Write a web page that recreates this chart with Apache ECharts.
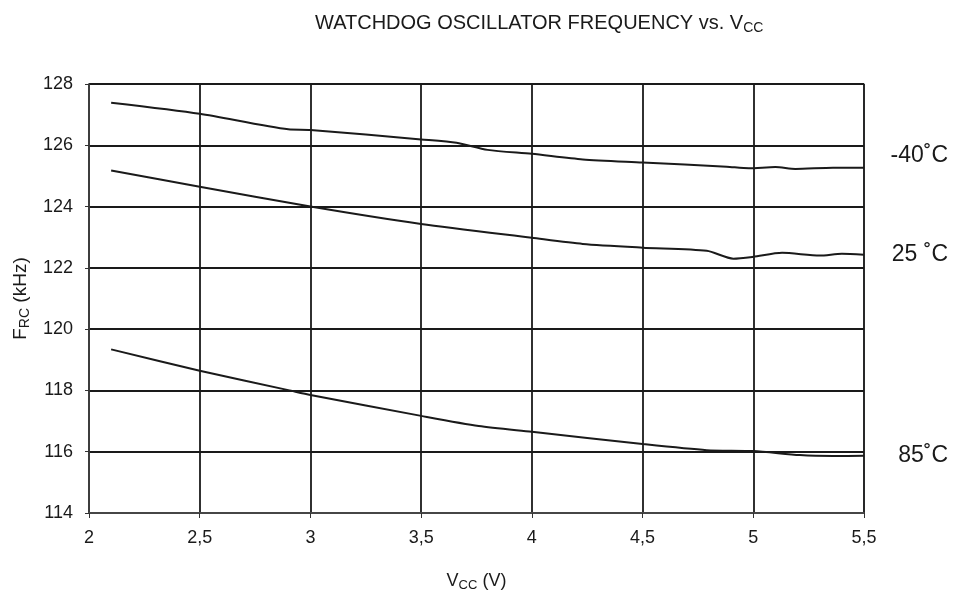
<!DOCTYPE html>
<html><head><meta charset="utf-8">
<script src="https://cdn.jsdelivr.net/npm/echarts@6/dist/echarts.min.js"></script>
<style>html,body{margin:0;padding:0;background:#fff}#c{width:961px;height:593px}</style>
</head><body><div id="c"></div>
<script>
const xTicks = [2, 2.5, 3, 3.5, 4, 4.5, 5, 5.5];
const yTicks = [114, 116, 118, 120, 122, 124, 126, 128];
const seriesNames = ['-40˚C', '25 ˚C', '85˚C'];
const vccM40 = [2.1, 2.5, 2.9, 3.0, 3.5, 3.66, 3.8, 4.0, 4.23, 4.5, 4.88, 4.98, 5.1, 5.19, 5.36, 5.5];
const fM40   = [127.39, 127.03, 126.52, 126.50, 126.19, 126.08, 125.85, 125.72, 125.54, 125.44, 125.30, 125.25, 125.29, 125.23, 125.27, 125.27];
const vcc25 = [2.1, 2.5, 3.0, 3.5, 4.0, 4.23, 4.5, 4.79, 4.91, 5.0, 5.13, 5.3, 5.4, 5.5];
const f25   = [125.18, 124.65, 124.0, 123.43, 122.98, 122.78, 122.66, 122.56, 122.30, 122.36, 122.49, 122.40, 122.46, 122.43];
const vcc85 = [2.1, 2.5, 2.9, 3.0, 3.5, 3.76, 4.0, 4.5, 4.79, 5.0, 5.21, 5.36, 5.5];
const f85   = [119.34, 118.64, 118.01, 117.85, 117.17, 116.84, 116.65, 116.25, 116.05, 116.02, 115.89, 115.86, 115.87];
const labelOffsets = [[76, -12], [76, 0], [76, 0]];

const FONT = '"Liberation Sans", Arial, sans-serif';
const INK = '#1a1a1a';
function pairs(xs, ys) { return xs.map((x, i) => [x, ys[i]]); }
const datasets = [pairs(vccM40, fM40), pairs(vcc25, f25), pairs(vcc85, f85)];

const chart = echarts.init(document.getElementById('c'), null, {renderer: 'canvas'});
chart.setOption({
  backgroundColor: '#fff',
  animation: false,
  title: {
    text: '{a|WATCHDOG OSCILLATOR FREQUENCY vs. V}{s|CC}',
    left: 310, top: 6,
    textStyle: {
      fontWeight: 'normal',
      rich: {
        a: {fontFamily: FONT, fontSize: 20, color: INK, fontWeight: 'normal'},
        s: {fontFamily: FONT, fontSize: 14, color: INK, fontWeight: 'normal', padding: [10, 0, 0, 0]}
      }
    }
  },
  grid: {left: 89, top: 84, right: 97, bottom: 80, containLabel: false, outerBoundsMode: 'none',
    show: true, borderColor: '#8c959c', borderWidth: 1.5, backgroundColor: 'transparent'},
  xAxis: {
    type: 'value', min: 2, max: 5.5, interval: 0.5,
    name: '{a|V}{s|CC}{a| (V)}', nameLocation: 'middle', nameGap: 58,
    nameTextStyle: {rich: {
      a: {fontFamily: FONT, fontSize: 18, color: INK},
      s: {fontFamily: FONT, fontSize: 13, color: INK, padding: [8, 0, 0, 0]}
    }},
    axisLine: {show: true, lineStyle: {color: '#555', width: 1.5}},
    axisTick: {show: true, inside: false, length: 5, lineStyle: {color: '#333'}},
    axisLabel: {margin: 16, fontFamily: FONT, fontSize: 18, color: INK,
      formatter: v => String(v).replace('.', ',')},
    splitLine: {show: true, lineStyle: {color: INK, width: 1.8}}
  },
  yAxis: {
    type: 'value', min: 114, max: 128, interval: 2,
    name: '{a|F}{s|RC}{a| (kHz)}', nameLocation: 'middle', nameGap: 57, nameRotate: 90,
    nameTextStyle: {rich: {
      a: {fontFamily: FONT, fontSize: 19, color: INK},
      s: {fontFamily: FONT, fontSize: 14, color: INK, padding: [8, 0, 0, 0]}
    }},
    axisLine: {show: true, lineStyle: {color: '#444', width: 1.5}},
    axisTick: {show: true, inside: false, length: 4, lineStyle: {color: '#333'}},
    axisLabel: {margin: 16, fontFamily: FONT, fontSize: 18, color: INK},
    splitLine: {show: true, lineStyle: {color: INK, width: 1.8}}
  },
  series: datasets.map((d, i) => ({
    type: 'line', name: seriesNames[i], data: d, smooth: 0.25,
    showSymbol: false, symbol: 'none',
    lineStyle: {color: INK, width: 2},
    endLabel: {show: true, formatter: seriesNames[i], align: 'right', verticalAlign: 'middle',
      offset: labelOffsets[i], fontFamily: FONT, fontSize: 23, color: INK}
  }))
});
</script></body></html>
